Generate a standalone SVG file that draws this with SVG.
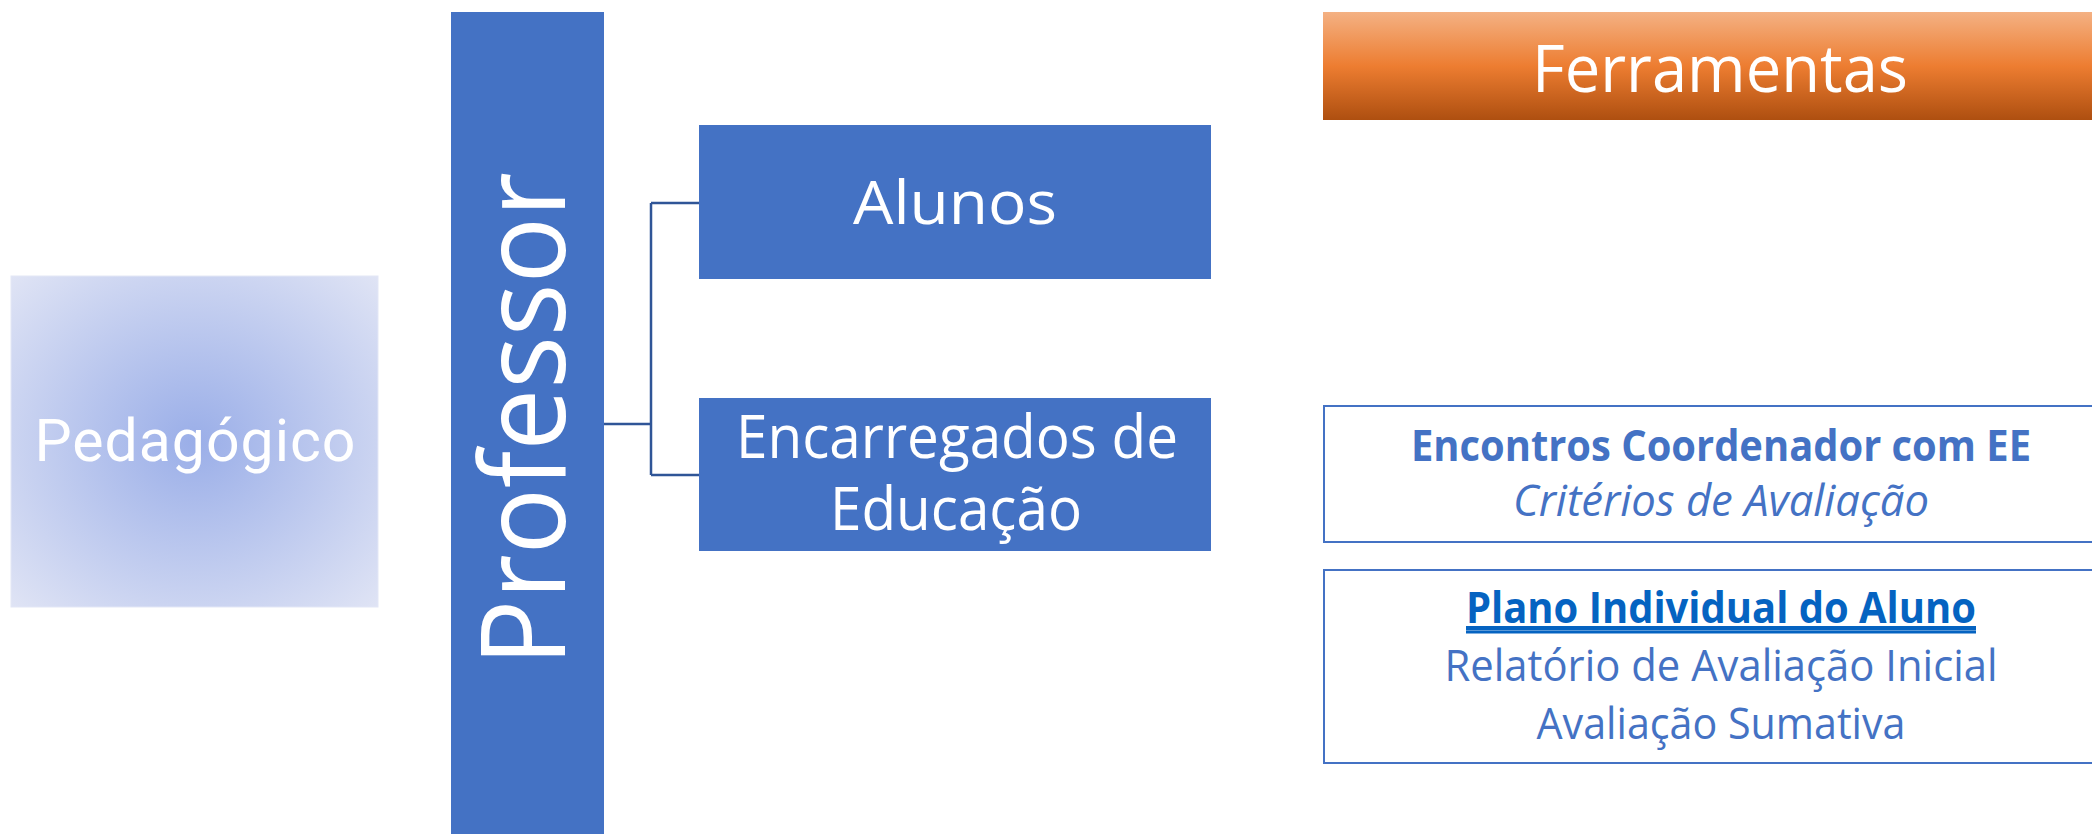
<svg xmlns="http://www.w3.org/2000/svg" width="2092" height="834" viewBox="0 0 2092 834">
<style>
.w{fill:#ffffff;font-family:"Open Sans","Liberation Sans",sans-serif;text-anchor:middle}
.b{fill:#4472c4;font-family:"Open Sans","Liberation Sans",sans-serif;text-anchor:middle;font-size:43px}
.blue{fill:#4472c4}
.box{fill:#ffffff;stroke:#4472c4;stroke-width:2}
.conn{fill:none;stroke:#2f5597;stroke-width:2.5}
</style>
<defs>
<radialGradient id="ped" cx="50%" cy="50%" r="72%">
<stop offset="0" stop-color="#9aaee8"/>
<stop offset="1" stop-color="#e1e5f5"/>
</radialGradient>
<linearGradient id="fer" x1="0" y1="0" x2="0" y2="1">
<stop offset="0" stop-color="#f4b183"/>
<stop offset="0.5" stop-color="#ed7d31"/>
<stop offset="1" stop-color="#ae4f10"/>
</linearGradient>
</defs>
<rect width="2092" height="834" fill="#ffffff"/>
<g id="connectors">
<path class="conn" d="M604 424 H651"/>
<path class="conn" d="M651 203 V475"/>
<path class="conn" d="M651 203 H699"/>
<path class="conn" d="M651 475 H699"/>
</g>
<g id="pedagogico">
<rect x="11" y="276" width="367" height="331" fill="url(#ped)" stroke="#e3e7f6" stroke-width="1"/>
<text x="195" y="461" style="fill:#fff;font-family:Roboto,'DejaVu Sans Condensed',sans-serif;font-weight:400;font-size:59px;text-anchor:middle" textLength="321" lengthAdjust="spacing">Pedagógico</text>
</g>
<g id="professor">
<rect x="451" y="12" width="153" height="822" class="blue"/>
<text class="w" transform="translate(565,419) rotate(-90)" x="0" y="0" font-size="117" textLength="494" lengthAdjust="spacingAndGlyphs">Professor</text>
</g>
<g id="alunos">
<rect x="699" y="125" width="512" height="154" class="blue"/>
<text class="w" x="955" y="224" font-size="60" textLength="204" lengthAdjust="spacingAndGlyphs">Alunos</text>
</g>
<g id="encarregados">
<rect x="699" y="398" width="512" height="153" class="blue"/>
<text class="w" x="957" y="458" font-size="60" textLength="442" lengthAdjust="spacingAndGlyphs">Encarregados de</text>
<text class="w" x="956" y="530" font-size="60" textLength="252" lengthAdjust="spacingAndGlyphs">Educação</text>
</g>
<g id="ferramentas">
<rect x="1323" y="12" width="800" height="108" fill="url(#fer)"/>
<text class="w" x="1720" y="92" font-size="66" textLength="376" lengthAdjust="spacingAndGlyphs">Ferramentas</text>
</g>
<g id="encontros">
<rect x="1324" y="406" width="800" height="136" class="box"/>
<text class="b" x="1721" y="461" font-weight="bold" textLength="620" lengthAdjust="spacingAndGlyphs">Encontros Coordenador com EE</text>
<text class="b" x="1721" y="516" font-style="italic" textLength="416" lengthAdjust="spacingAndGlyphs">Critérios de Avaliação</text>
</g>
<g id="plano">
<rect x="1324" y="570" width="800" height="193" class="box"/>
<text class="b" x="1721" y="623" font-weight="bold" style="fill:#0563c1" text-decoration="underline" textLength="510" lengthAdjust="spacingAndGlyphs">Plano Individual do Aluno</text>
<line x1="1466" y1="632" x2="1976" y2="632" stroke="#0563c1" stroke-width="3"/>
<text class="b" x="1721" y="681" textLength="553" lengthAdjust="spacingAndGlyphs">Relatório de Avaliação Inicial</text>
<text class="b" x="1721" y="739" textLength="369" lengthAdjust="spacingAndGlyphs">Avaliação Sumativa</text>
</g>
</svg>
